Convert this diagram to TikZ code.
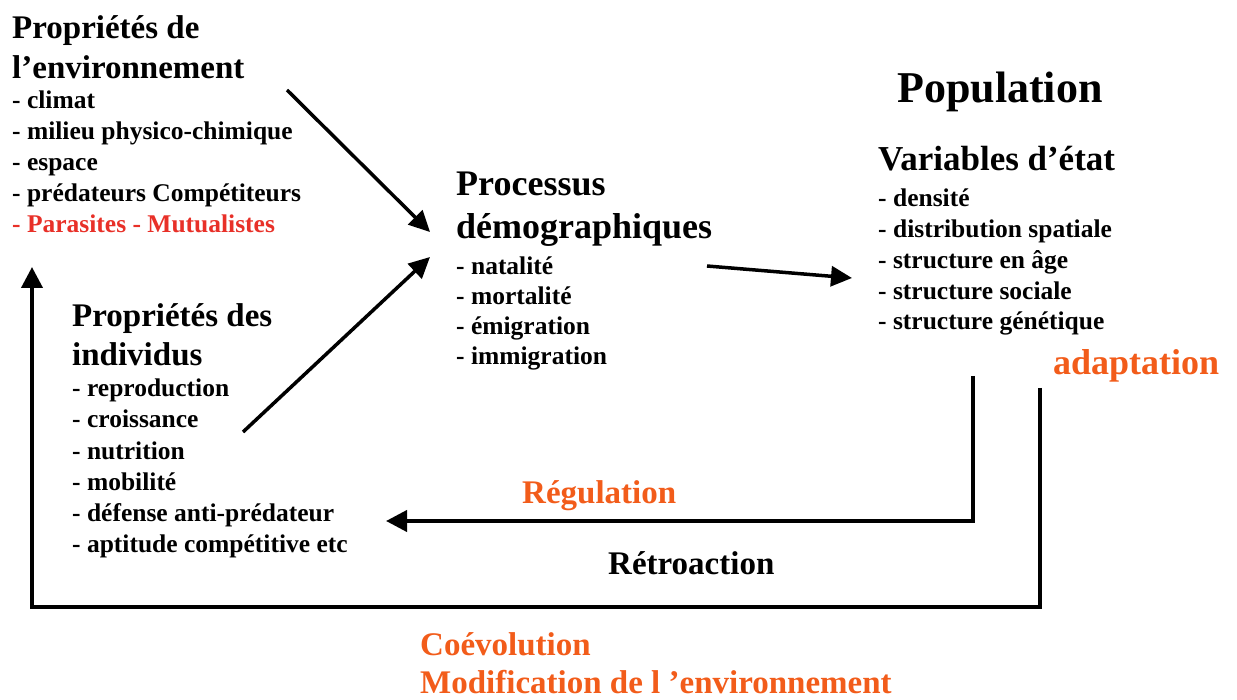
\documentclass[tikz,border=0pt]{standalone}
\usepackage{fontspec}
\setmainfont{Liberation Serif}
\usetikzlibrary{arrows.meta}
\definecolor{redtxt}{RGB}{232,48,40}
\definecolor{orangetxt}{RGB}{242,92,26}
\begin{document}
\begin{tikzpicture}[x=1pt,y=-1pt,
  ttl/.style={anchor=base west,inner sep=0pt,font=\fontsize{33}{40}\selectfont\bfseries},
  big/.style={anchor=base west,inner sep=0pt,font=\fontsize{44}{52}\selectfont\bfseries},
  itm/.style={anchor=base west,inner sep=0pt,font=\fontsize{25.5}{31}\selectfont\bfseries},
  lbl/.style={anchor=base west,inner sep=0pt,font=\fontsize{33}{40}\selectfont\bfseries,text=orangetxt},
  arr/.style={line width=3.5pt,-{Triangle[length=21pt,width=20pt]}},
  fb/.style={line width=4pt,-{Triangle[length=21pt,width=21pt]}}]
\useasboundingbox (0,0) rectangle (1237,700);
% Environment
\node[ttl] (e1) at (12,39) {Propriétés de};
\node[ttl] (e2) at (12,79) {l’environnement};
\node[itm] (e3) at (12,109) {- climat};
\node[itm] (e4) at (12,140) {- milieu physico-chimique};
\node[itm] (e5) at (12,171) {- espace};
\node[itm] (e6) at (12,202) {- prédateurs Compétiteurs};
\node[itm,text=redtxt] (e7) at (12,233) {- Parasites - Mutualistes};
% Processus
\node[ttl,font=\fontsize{36}{42}\selectfont\bfseries] (p1) at (456,196) {Processus};
\node[ttl,font=\fontsize{36}{42}\selectfont\bfseries] (p2) at (456,239) {démographiques};
\node[itm] (p3) at (456,275) {- natalité};
\node[itm] (p4) at (456,305) {- mortalité};
\node[itm] (p5) at (456,335) {- émigration};
\node[itm] (p6) at (456,365) {- immigration};
% Population
\node[big] (pop) at (897,103) {Population};
\node[ttl,font=\fontsize{35}{42}\selectfont\bfseries] (v1) at (878,171) {Variables d’état};
\node[itm] (v2) at (878,207) {- densité};
\node[itm] (v3) at (878,238) {- distribution spatiale};
\node[itm] (v4) at (878,269) {- structure en âge};
\node[itm] (v5) at (878,300) {- structure sociale};
\node[itm] (v6) at (878,330) {- structure génétique};
\node[lbl,font=\fontsize{36}{42}\selectfont\bfseries] (adapt) at (1053,375) {adaptation};
% Individus
\node[ttl] (i1) at (72,327) {Propriétés des};
\node[ttl] (i2) at (72,366) {individus};
\node[itm] (i3) at (72,397) {- reproduction};
\node[itm] (i4) at (72,428) {- croissance};
\node[itm] (i5) at (72,459) {- nutrition};
\node[itm] (i6) at (72,490) {- mobilité};
\node[itm] (i7) at (72,521) {- défense anti-prédateur};
\node[itm] (i8) at (72,552) {- aptitude compétitive etc};
% labels
\node[lbl] (reg) at (522,503) {Régulation};
\node[ttl] (retro) at (608,574) {Rétroaction};
\node[lbl] (coev) at (420,655) {Coévolution};
\node[lbl] (modif) at (420,693) {Modification de l ’environnement};
% arrow end points
\coordinate (a1s) at (287,90);
\coordinate (a1e) at (430,232);
\coordinate (a2s) at (243,432);
\coordinate (a2e) at (430,257);
\coordinate (a3s) at (707,266);
\coordinate (a3e) at (852,278);
\coordinate (rs) at (973,376);
\coordinate (re) at (386,521);
\coordinate (cs) at (1040,388);
\coordinate (cc) at (32,607);
\coordinate (ce) at (32,267);
\draw[arr] (a1s) -- (a1e);
\draw[arr] (a2s) -- (a2e);
\draw[arr] (a3s) -- (a3e);
\draw[fb] (rs) |- (re);
\draw[fb,line join=miter] (cs) |- (cc) -- (ce);
\end{tikzpicture}
\end{document}
